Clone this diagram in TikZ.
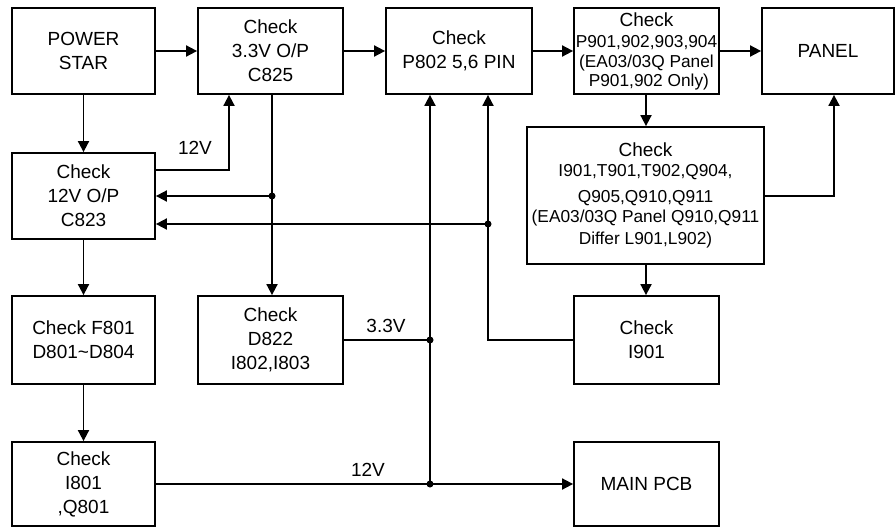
\documentclass[tikz,border=0pt]{standalone}
\usepackage{fontspec}
\setmainfont{Liberation Sans}
\usetikzlibrary{arrows.meta}
\newcommand{\bigf}{\fontsize{19}{24}\selectfont}
\newcommand{\smallf}{\fontsize{17.3}{20}\selectfont}
\tikzset{
  blk/.style={draw, line width=1.8pt, inner sep=0pt, align=center, font=\bigf},
  arr/.style={line width=1.8pt, -{Triangle[length=11pt,width=11pt]}},
  ln/.style={line width=1.8pt},
  lbl/.style={font=\bigf, inner sep=0pt}
}
\begin{document}
\begin{tikzpicture}[x=1pt,y=-1pt]
\useasboundingbox (0,0) rectangle (896,527);
% boxes
\node[blk, minimum width=143, minimum height=86] (ps) at (83.5,51) {POWER\\STAR};
\node[blk, minimum width=145, minimum height=86] (c825) at (270.5,51) {Check\\3.3V O/P\\C825};
\node[blk, minimum width=146, minimum height=86] (p802) at (459,51) {Check\\P802 5,6 PIN};
\node[blk, minimum width=145, minimum height=86] (p901) at (646.5,51) {Check\\[-3pt]\smallf P901,902,903,904\\[-4pt]\smallf (EA03/03Q Panel\\[-5pt]\smallf \ P901,902 Only)};
\node[blk, minimum width=132, minimum height=86] (panel) at (828,51) {PANEL};
\node[blk, minimum width=143, minimum height=86] (c823) at (83.5,196) {Check\\12V O/P\\C823};
\node[blk, minimum width=237, minimum height=137] (big) at (645.5,195.5) {Check\\[-4pt]\smallf I901,T901,T902,Q904,\\[2pt]\smallf Q905,Q910,Q911\\[-4pt]\smallf (EA03/03Q Panel Q910,Q911\\[-2pt]\smallf Differ L901,L902)};
\node[blk, minimum width=143, minimum height=88] (f801) at (83.5,340) {Check F801\\D801\textasciitilde D804};
\node[blk, minimum width=145, minimum height=88] (d822) at (270.5,340) {Check\\D822\\I802,I803};
\node[blk, minimum width=145, minimum height=88] (i901) at (646.5,340) {Check\\I901};
\node[blk, minimum width=143, minimum height=84] (i801) at (83.5,484) {Check\\I801\\,Q801};
\node[blk, minimum width=145, minimum height=84] (main) at (646.5,484) {MAIN PCB};
% junctions
\coordinate (j1) at (272,196);
\coordinate (j2) at (488,224);
\coordinate (j3) at (430,340);
\coordinate (j4) at (430,484);
% top row
\draw[arr] (ps) -- (c825);
\draw[arr] (c825) -- (p802);
\draw[arr] (p802) -- (p901);
\draw[arr] (p901) -- (panel);
% left column
\draw[arr] (ps) -- (c823);
\draw[arr] (c823) -- (f801);
\draw[arr] (f801) -- (i801);
% 12V from C823 to C825
\draw[arr] (c823.east |- 0,170) -| (229,0 |- c825.south);
\node[lbl] (l12a) at (195,148) {12V};
% C825 down to D822
\draw[arr] (272,0 |- c825.south) -- (272,0 |- d822.north);
\draw[arr] (j1) -- (j1 -| c823.east);
% I901 back to P802
\draw[arr] (i901.west) -| (488,0 |- p802.south);
\draw[arr] (j2) -- (j2 -| c823.east);
% 3.3V / 12V bus
\draw[arr] (j4) -- (430,0 |- p802.south);
\draw[ln] (d822.east) -- (j3);
\draw[arr] (i801) -- (main);
\node[lbl] (l33) at (386,326) {3.3V};
\node[lbl] (l12b) at (368,470) {12V};
% right side
\draw[arr] (646,0 |- p901.south) -- (646,0 |- big.north);
\draw[arr] (646,0 |- big.south) -- (646,0 |- i901.north);
\draw[arr] (big.east |- 0,196) -| (834,0 |- panel.south);
% dots
\fill (j1) circle (3.5);
\fill (j2) circle (3.5);
\fill (j3) circle (3.5);
\fill (j4) circle (3.5);
\end{tikzpicture}
\end{document}
